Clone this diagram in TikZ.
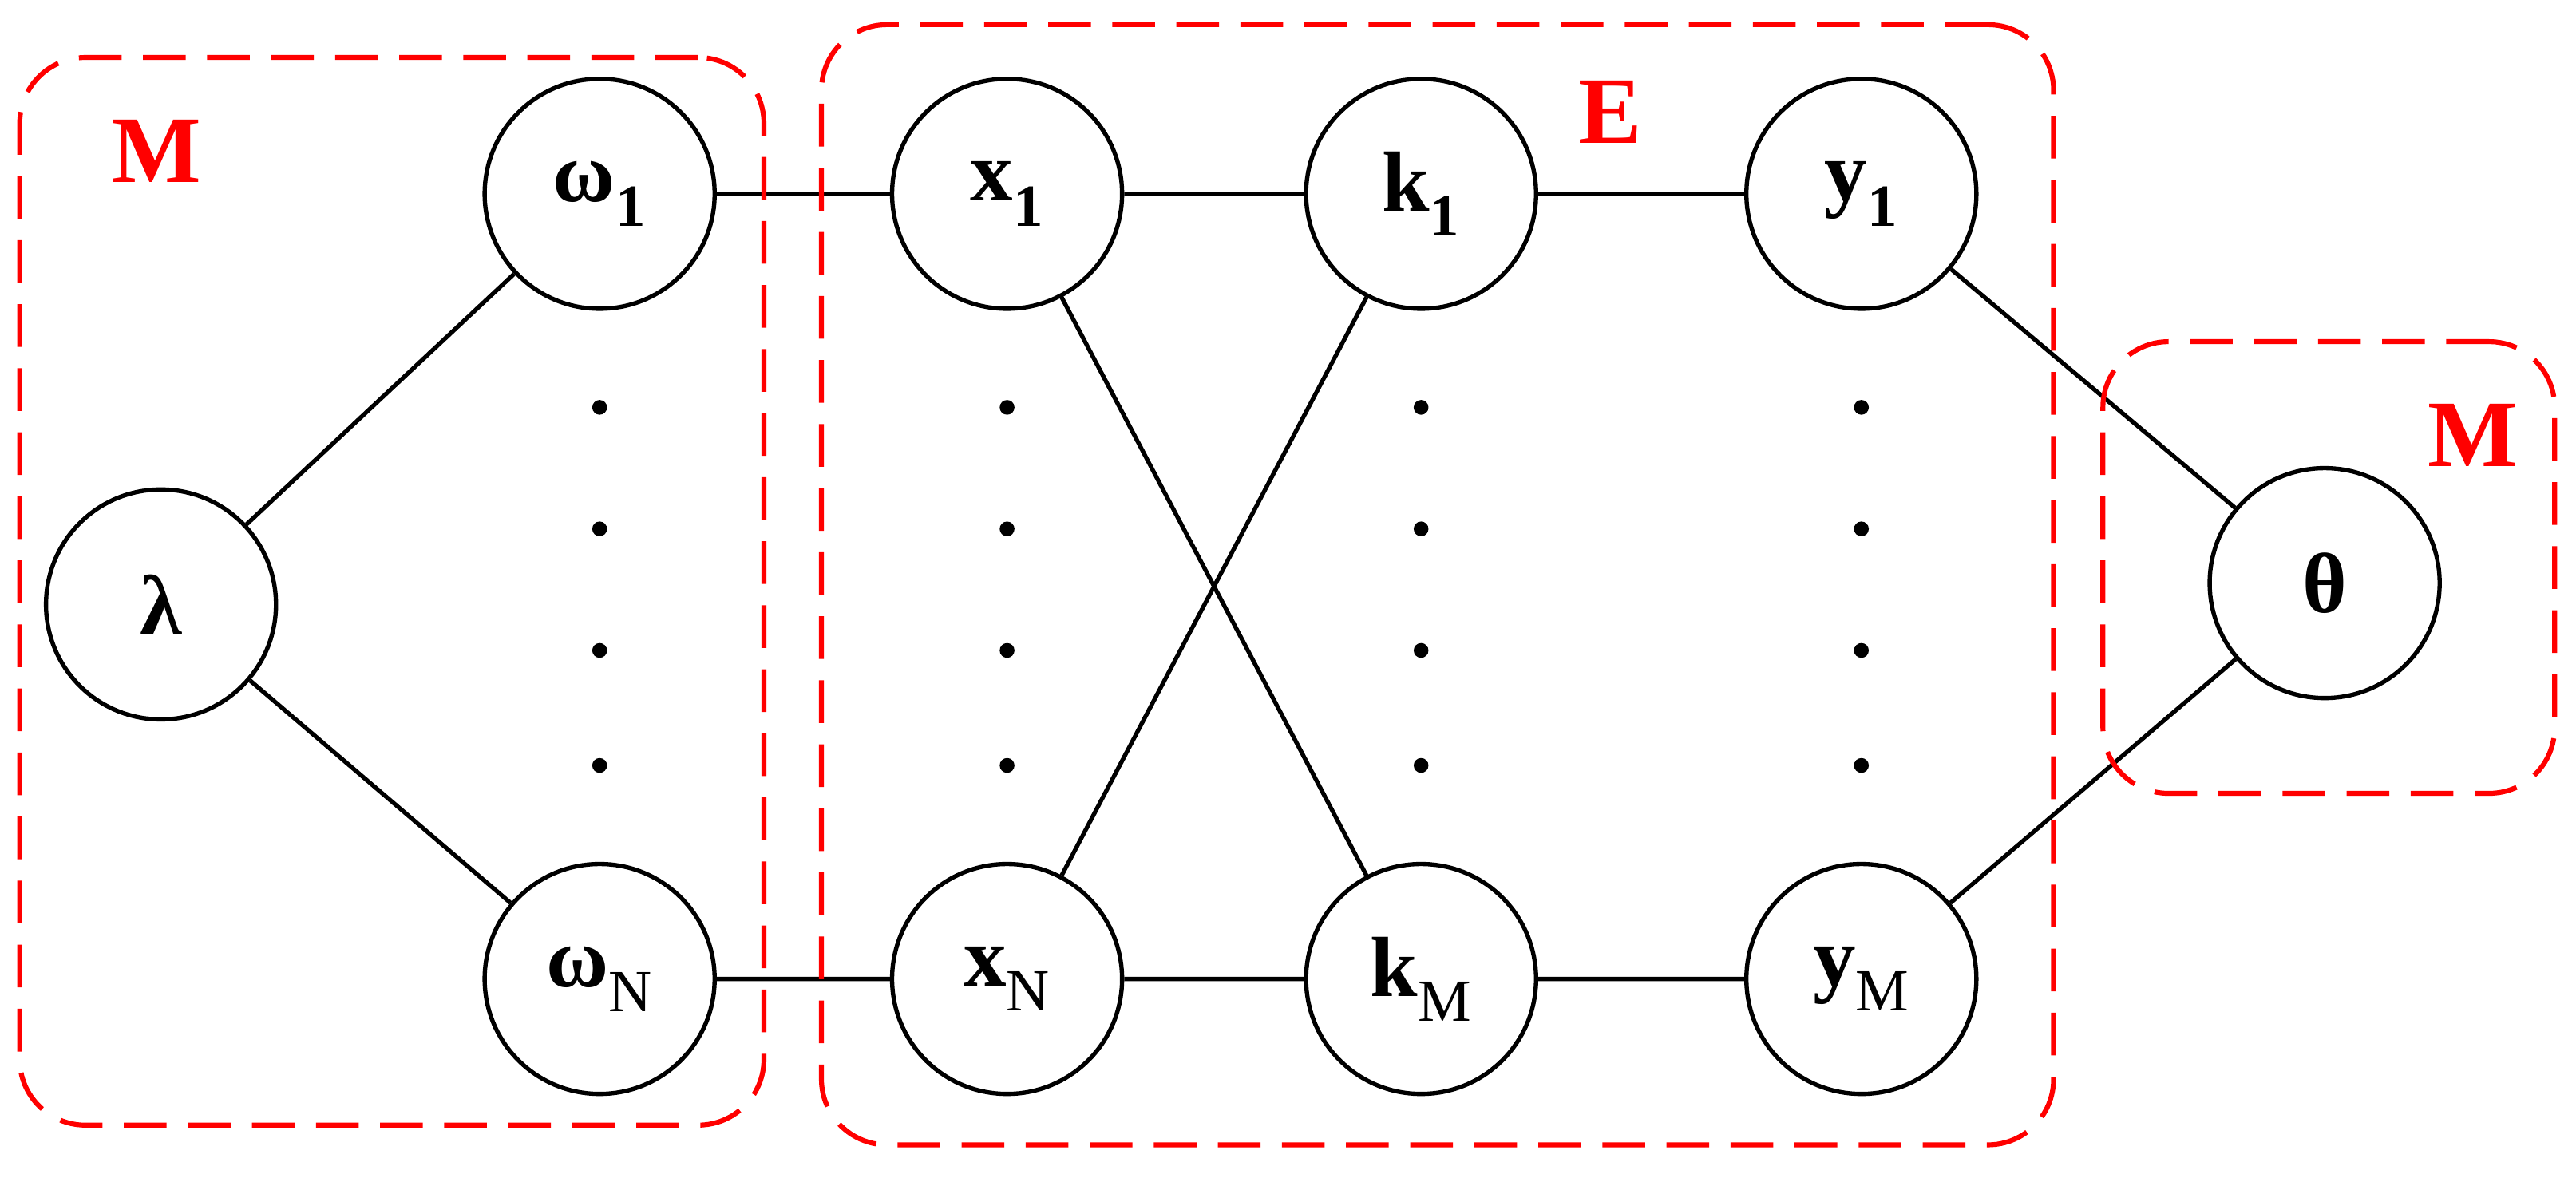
\documentclass[tikz,border=0pt]{standalone}
\usepackage{fontspec}
\setmainfont{Liberation Serif}
\begin{document}
\begin{tikzpicture}[x=1pt,y=-1pt,
  v/.style={circle,draw,line width=2.6pt,minimum size=140pt,inner sep=0pt,font=\fontsize{52}{60}\selectfont\bfseries},
  e/.style={line width=2.6pt},
  grp/.style={draw=red,line width=3pt,dash pattern=on 26pt off 13pt,rounded corners=40pt},
  lab/.style={text=red,font=\fontsize{58}{66}\selectfont\bfseries},
  dot/.style={circle,fill,inner sep=0pt,minimum size=9pt}]
\useasboundingbox (0,0) rectangle (1568,717);
\node[v] (l) at (98,368) {λ};
\node[v] (w1) at (365,118) {ω\textsubscript{1}};
\node[v] (wN) at (365,596) {ω\textsubscript{\mdseries N}};
\node[v] (x1) at (613,118) {x\textsubscript{1}};
\node[v] (xN) at (613,596) {x\textsubscript{\mdseries N}};
\node[v] (k1) at (865,118) {k\textsubscript{1}};
\node[v] (kM) at (865,596) {k\textsubscript{\mdseries M}};
\node[v] (y1) at (1133,118) {y\textsubscript{1}};
\node[v] (yM) at (1133,596) {y\textsubscript{\mdseries M}};
\node[v] (t) at (1415,355) {θ};
\foreach \x/\n in {365/a,613/b,865/c,1133/d}
  \foreach \y/\m in {248/1,322/2,396/3,466/4}
    \node[dot] (d\n\m) at (\x,\y) {};
\draw[e] (l)--(w1) (l)--(wN) (w1)--(x1) (wN)--(xN) (x1)--(k1) (xN)--(kM)
  (k1)--(y1) (kM)--(yM) (x1)--(kM) (xN)--(k1) (y1)--(t) (yM)--(t);
\node[grp,minimum width=453pt,minimum height=650pt] (g1) at (238.5,360) {};
\node[grp,minimum width=750pt,minimum height=682pt] (g2) at (875,356) {};
\node[grp,minimum width=275pt,minimum height=275pt] (g3) at (1417.5,345.5) {};
\node[lab] (m1) at (95,92) {M};
\node[lab] (ee) at (980,68) {E};
\node[lab] (m2) at (1505,265) {M};
\end{tikzpicture}
\end{document}
